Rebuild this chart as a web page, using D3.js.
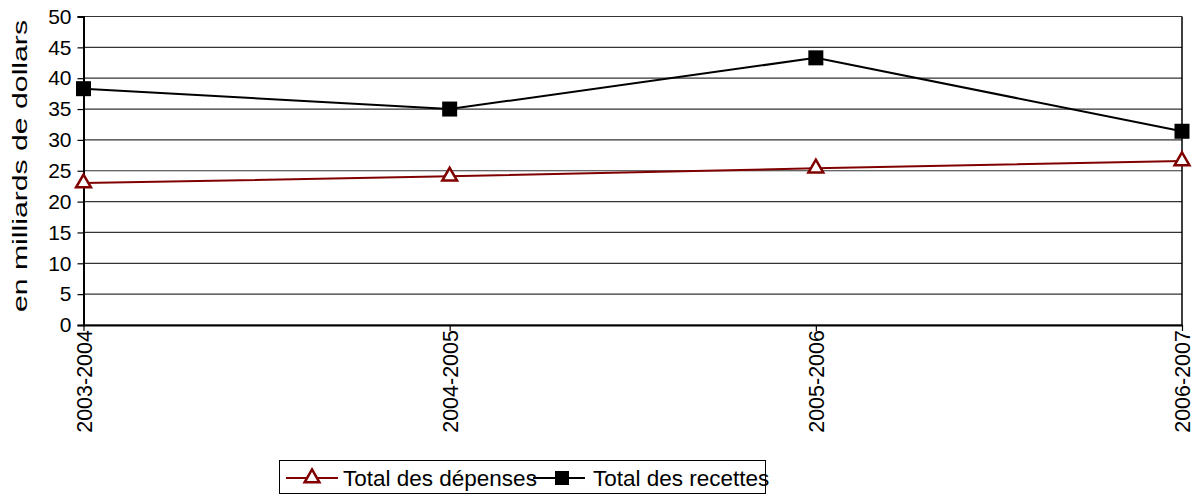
<!DOCTYPE html>
<html><head><meta charset="utf-8">
<script src="https://cdn.jsdelivr.net/npm/d3@7"></script>
<style>body{margin:0;background:#fff}svg{display:block}text{font-family:"Liberation Sans",Arial,sans-serif;fill:#000}</style>
</head><body>
<svg id="c" width="1195" height="495"></svg>
<script>
const categories = ["2003-2004","2004-2005","2005-2006","2006-2007"];
const depenses = [23.0, 24.1, 25.4, 26.6];
const recettes = [38.3, 35.0, 43.3, 31.4];
const yTicks = [0,5,10,15,20,25,30,35,40,45,50];
const seriesNames = ["Total des dépenses","Total des recettes"];
const yTitle = "en milliards de dollars";

const svg = d3.select("#c");
const L = 83.5, R = 1182, T = 16.5, B = 325;
const x = d3.scalePoint().domain(categories).range([L, R]).padding(0);
const y = d3.scaleLinear().domain([0,50]).range([B, T]);

// gridlines
svg.append("g").selectAll("line").data(yTicks).join("line")
  .attr("x1", L).attr("x2", R).attr("y1", d=>y(d)).attr("y2", d=>y(d))
  .attr("stroke", "#333").attr("stroke-width", 1.2);
// right border
svg.append("line").attr("x1", R).attr("x2", R).attr("y1", T).attr("y2", B).attr("stroke","#000").attr("stroke-width",1.5);

// y axis
const yAxis = svg.append("g").attr("transform", `translate(${L},0)`)
  .call(d3.axisLeft(y).tickValues(yTicks).tickSize(6).tickPadding(6));
yAxis.select(".domain").attr("stroke","#000").attr("stroke-width",2);
yAxis.selectAll(".tick line").attr("stroke","#000").attr("stroke-width",1.2);
yAxis.selectAll(".tick text").attr("font-size", 21).attr("font-family","Liberation Sans, Arial, sans-serif").attr("fill","#000");

// x axis
const xAxis = svg.append("g").attr("transform", `translate(0,${B})`)
  .call(d3.axisBottom(x).tickSize(6).tickSizeOuter(0).tickPadding(0));
xAxis.select(".domain").attr("stroke","#000").attr("stroke-width",2);
xAxis.selectAll(".tick line").attr("stroke","#000").attr("stroke-width",1.2);
xAxis.selectAll(".tick text").attr("font-size", 21.5).attr("font-family","Liberation Sans, Arial, sans-serif").attr("fill","#000")
  .attr("transform","rotate(-90)").attr("text-anchor","end").attr("dy","0.35em").attr("x",-5).attr("y",0);

// y title
svg.append("text").attr("transform", `translate(27,166) rotate(-90)`)
  .attr("text-anchor","middle").attr("font-size",21)
  .attr("textLength",292).attr("lengthAdjust","spacingAndGlyphs").text(yTitle);

// lines
const line = d3.line().x((d,i)=>x(categories[i])).y(d=>y(d));
svg.append("path").datum(depenses).attr("d", line).attr("fill","none").attr("stroke","#800000").attr("stroke-width",2);
svg.append("path").datum(recettes).attr("d", line).attr("fill","none").attr("stroke","#000").attr("stroke-width",2);

const tri = d3.symbol().type(d3.symbolTriangle).size(95);
svg.append("g").selectAll("path").data(depenses).join("path")
  .attr("d", tri).attr("transform",(d,i)=>`translate(${x(categories[i])},${y(d)})`)
  .attr("fill","#fff").attr("stroke","#800000").attr("stroke-width",2.5);
svg.append("g").selectAll("rect").data(recettes).join("rect")
  .attr("x",(d,i)=>x(categories[i])-7.5).attr("y",d=>y(d)-7.5).attr("width",15).attr("height",15)
  .attr("fill","#000");

// legend
const lg = svg.append("g");
lg.append("rect").attr("x",279.5).attr("y",460.5).attr("width",486).attr("height",33).attr("fill","#fff").attr("stroke","#000").attr("stroke-width",1);
const ly = 478;
lg.append("line").attr("x1",286).attr("x2",338).attr("y1",ly).attr("y2",ly).attr("stroke","#800000").attr("stroke-width",2);
lg.append("path").attr("d",tri).attr("transform",`translate(312,${ly})`).attr("fill","#fff").attr("stroke","#800000").attr("stroke-width",2.5);
lg.append("line").attr("x1",533).attr("x2",585).attr("y1",ly).attr("y2",ly).attr("stroke","#000").attr("stroke-width",2);
lg.append("rect").attr("x",555).attr("y",ly-7).attr("width",14).attr("height",14).attr("fill","#000");
lg.append("text").attr("x",343).attr("y",ly+8).attr("font-size",22.5).text(seriesNames[0]);
lg.append("text").attr("x",593).attr("y",ly+8).attr("font-size",22.5).text(seriesNames[1]);
</script>
</body></html>
